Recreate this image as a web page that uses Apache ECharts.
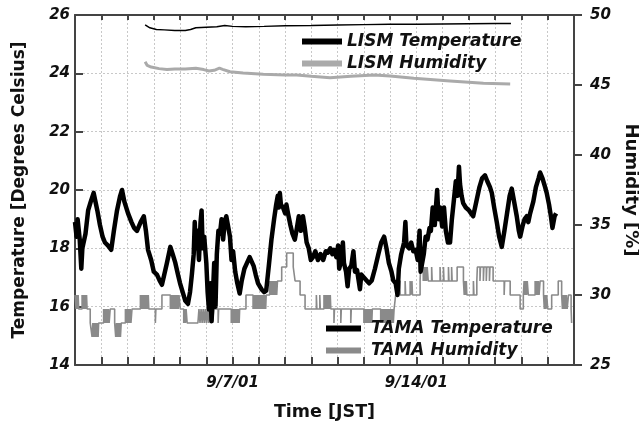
<!DOCTYPE html>
<html>
<head>
<meta charset="utf-8">
<script src="https://cdn.jsdelivr.net/npm/echarts@6/dist/echarts.min.js"></script>
<style>
  html, body { margin: 0; padding: 0; background: #fff; }
  #chart { width: 639px; height: 424px; }
</style>
</head>
<body>
<div id="chart"></div>
<script>
// x values are days since 9/1/01 00:00 JST
const xTickDays = [6, 13]
const xTickLabels = ['9/7/01', '9/14/01']

// TAMA temperature (left axis, deg C)
const tamaTempDay = [0.00,0.06,0.10,0.18,0.24,0.28,0.33,0.40,0.50,0.60,0.71,0.78,0.85,0.95,1.05,1.14,1.25,1.38,1.48,1.60,1.72,1.79,1.88,2.02,2.15,2.25,2.36,2.50,2.62,2.70,2.78,2.90,3.00,3.12,3.22,3.31,3.40,3.50,3.63,3.72,3.82,3.92,4.00,4.10,4.20,4.30,4.38,4.45,4.52,4.56,4.60,4.66,4.72,4.78,4.82,4.86,4.92,5.00,5.05,5.10,5.15,5.20,5.25,5.30,5.35,5.40,5.46,5.52,5.58,5.64,5.70,5.76,5.82,5.90,5.96,6.02,6.10,6.18,6.27,6.35,6.45,6.55,6.65,6.71,6.80,6.88,6.97,7.10,7.20,7.28,7.38,7.48,7.58,7.66,7.72,7.76,7.80,7.84,7.92,8.00,8.05,8.11,8.20,8.28,8.37,8.45,8.52,8.60,8.68,8.75,8.82,8.90,8.98,9.06,9.15,9.25,9.35,9.45,9.55,9.63,9.72,9.80,9.86,9.95,10.02,10.06,10.14,10.20,10.24,10.32,10.38,10.44,10.52,10.60,10.66,10.74,10.85,10.90,11.00,11.10,11.20,11.30,11.42,11.55,11.66,11.77,11.86,11.95,12.05,12.12,12.21,12.28,12.33,12.42,12.53,12.58,12.62,12.72,12.80,12.88,12.97,13.05,13.12,13.16,13.21,13.28,13.35,13.42,13.50,13.55,13.62,13.70,13.75,13.79,13.84,13.90,13.98,14.05,14.12,14.20,14.28,14.35,14.42,14.50,14.56,14.62,14.66,14.72,14.78,14.88,15.00,15.08,15.16,15.28,15.40,15.50,15.61,15.70,15.80,15.87,15.96,16.06,16.15,16.25,16.35,16.45,16.55,16.63,16.72,16.82,16.90,16.95,17.05,17.12,17.20,17.26,17.33,17.45,17.55,17.65,17.71,17.80,17.90,17.96,18.05,18.12,18.18,18.21,18.26,18.32]
const tamaTempVal = [18.9,18.4,19.0,18.3,17.3,18.0,18.05,18.5,19.3,19.6,19.9,19.6,19.3,18.8,18.4,18.2,18.1,17.95,18.6,19.3,19.8,20.0,19.6,19.2,18.9,18.7,18.6,18.9,19.1,18.6,17.95,17.6,17.2,17.1,16.9,16.75,17.1,17.5,18.05,17.8,17.5,17.1,16.8,16.5,16.2,16.1,16.5,17.1,17.8,18.9,18.0,18.6,17.6,18.9,19.3,18.0,18.4,17.5,16.5,15.9,16.8,15.5,16.4,17.5,16.0,17.8,18.6,18.5,19.0,18.3,18.9,19.1,18.8,18.4,17.6,17.9,17.2,16.8,16.45,16.9,17.3,17.5,17.7,17.75,17.4,17.1,16.8,16.6,16.5,16.55,17.4,18.3,19.0,19.5,19.8,19.4,19.9,19.5,19.4,19.2,19.5,19.2,18.8,18.5,18.3,18.7,19.1,18.6,19.1,18.7,18.2,18.0,17.6,17.7,17.9,17.6,17.8,17.6,17.9,17.85,18.0,17.8,17.95,17.7,18.1,17.3,17.6,18.2,17.5,17.2,16.7,17.3,17.4,17.9,17.2,17.25,16.6,17.1,17.0,16.9,16.8,16.9,17.3,17.8,18.2,18.4,18.0,17.5,17.2,16.9,16.8,16.4,17.3,17.8,18.2,18.9,18.1,18.0,18.2,17.9,17.95,17.6,18.6,17.2,17.15,17.8,18.4,18.3,18.7,18.6,19.4,18.8,19.5,20.0,19.0,19.4,18.75,19.4,18.6,18.2,18.2,19.0,19.6,20.3,19.8,20.8,20.2,19.8,19.55,19.4,19.3,19.2,19.1,19.6,20.1,20.4,20.5,20.3,20.1,19.9,19.4,18.9,18.4,18.05,18.6,19.2,19.8,20.05,19.6,19.1,18.6,18.4,18.8,19.0,19.1,18.9,19.2,19.6,20.1,20.4,20.6,20.4,20.1,19.9,19.5,19.1,18.7,18.75,19.1,19.2]

// TAMA humidity (right axis, %), value holds from its day to the next
const tamaHumDay = [0.00,0.04,0.07,0.10,0.12,0.14,0.27,0.30,0.33,0.36,0.39,0.42,0.44,0.46,0.58,0.65,0.68,0.71,0.74,0.77,0.80,0.83,0.86,0.88,0.90,1.09,1.12,1.15,1.18,1.21,1.24,1.27,1.30,1.34,1.51,1.55,1.58,1.61,1.64,1.67,1.70,1.73,1.76,1.92,1.95,1.98,2.01,2.04,2.07,2.10,2.13,2.17,2.49,2.52,2.55,2.58,2.61,2.64,2.67,2.70,2.73,2.76,2.79,2.81,3.06,3.08,3.31,3.63,3.66,3.69,3.72,3.75,3.78,3.81,3.84,3.87,3.90,3.93,3.96,4.01,4.14,4.17,4.20,4.23,4.27,4.68,4.72,4.76,4.80,4.84,4.88,4.92,4.96,5.00,5.04,5.08,5.12,5.16,5.20,5.24,5.28,5.45,5.47,5.95,5.98,6.01,6.04,6.07,6.10,6.13,6.16,6.19,6.22,6.25,6.27,6.51,6.78,6.81,6.84,6.87,6.90,6.93,6.96,6.99,7.02,7.05,7.08,7.11,7.14,7.17,7.20,7.23,7.26,7.28,7.41,7.44,7.47,7.50,7.53,7.56,7.59,7.62,7.65,7.68,7.71,7.87,8.06,8.31,8.38,8.57,8.76,9.19,9.21,9.32,9.34,9.48,9.51,9.54,9.57,9.60,9.63,9.66,9.69,9.72,9.74,9.86,9.88,10.12,10.14,10.50,10.52,11.00,11.03,11.06,11.09,11.12,11.15,11.18,11.21,11.24,11.27,11.30,11.32,11.64,11.67,11.70,11.73,11.76,11.79,11.82,11.85,11.88,11.91,11.94,11.97,12.00,12.03,12.06,12.09,12.12,12.15,12.18,12.21,12.30,12.38,12.57,12.59,12.76,12.78,12.83,12.85,13.14,13.16,13.26,13.29,13.32,13.35,13.38,13.41,13.45,13.58,13.60,13.90,13.92,14.03,14.05,14.22,14.24,14.34,14.36,14.55,14.79,14.82,14.85,14.88,14.90,14.92,15.17,15.19,15.30,15.32,15.42,15.44,15.55,15.57,15.66,15.68,15.78,15.80,15.92,16.34,16.36,16.57,16.95,17.07,17.10,17.13,17.16,17.19,17.22,17.26,17.52,17.55,17.58,17.61,17.64,17.67,17.71,17.84,17.87,17.90,17.93,17.96,18.00,18.15,18.40,18.53,18.56,18.59,18.62,18.65,18.68,18.71,18.74,18.79,18.89,18.91]
const tamaHumVal = [30,29,30,29,30,29,30,29,30,29,30,29,30,29,28,27,28,27,28,27,28,27,28,27,28,29,28,29,28,29,28,29,28,29,28,27,28,27,28,27,28,27,28,29,28,29,28,29,28,29,28,29,30,29,30,29,30,29,30,29,30,29,30,29,28,29,30,29,30,29,30,29,30,29,30,29,30,29,30,29,28,29,28,29,28,28,29,28,29,28,29,28,29,28,29,28,29,28,29,28,29,28,29,28,29,28,29,28,29,28,29,28,29,28,29,30,29,30,29,30,29,30,29,30,29,30,29,30,29,30,29,30,29,30,31,30,31,30,31,30,31,30,31,30,31,32,33,32,31,30,29,30,29,30,29,30,29,30,29,30,29,30,29,30,29,28,29,28,29,28,29,28,29,28,29,28,29,28,29,28,29,28,29,28,29,28,29,28,29,28,29,28,29,28,29,28,29,28,29,28,29,29,30,31,30,31,30,31,30,31,30,31,32,31,32,31,32,31,32,31,32,31,32,31,32,31,32,31,32,31,32,31,30,31,30,31,30,31,30,31,32,31,32,31,32,31,32,31,32,31,30,31,30,29,30,31,30,31,30,31,30,31,30,31,30,31,30,31,30,29,30,29,30,29,30,31,30,29,30,29,30,29,30,29,30,29,28,28]

// LISM temperature (left axis) and humidity (right axis)
const lismTempDay = [2.67,2.85,3.10,3.40,3.80,4.20,4.40,4.60,5.00,5.40,5.70,6.00,6.50,7.20,8.00,9.00,10.00,11.00,12.00,13.00,14.00,15.00,16.00,16.60]
const lismTempVal = [25.66,25.56,25.50,25.49,25.47,25.47,25.50,25.56,25.58,25.60,25.64,25.61,25.60,25.61,25.63,25.64,25.66,25.67,25.68,25.68,25.69,25.70,25.71,25.71]
const lismHumDay = [2.67,2.75,2.90,3.20,3.50,3.80,4.20,4.60,4.90,5.10,5.30,5.50,5.62,5.90,6.40,7.17,8.00,8.44,9.00,9.71,10.50,11.40,12.00,12.90,14.28,15.55,16.57]
const lismHumVal = [46.66,46.40,46.28,46.17,46.10,46.15,46.14,46.19,46.10,46.00,46.05,46.20,46.12,45.95,45.85,45.76,45.72,45.71,45.62,45.52,45.62,45.71,45.65,45.48,45.29,45.12,45.07]

const zip = (xs, ys) => xs.map((x, i) => [x, ys[i]])

const FONT = 'DejaVu Sans'
const labelStyle = { fontFamily: FONT, fontWeight: 'bold', fontStyle: 'italic', fontSize: 15, color: '#111' }
const nameStyle = { fontFamily: FONT, fontWeight: 'bold', fontSize: 17, color: '#111' }
const legendText = { fontFamily: FONT, fontWeight: 'bold', fontStyle: 'italic', fontSize: 17, color: '#111' }
const frame = { show: true, onZero: false, lineStyle: { color: '#444', width: 2 } }
const grid = { show: true, lineStyle: { color: '#c8c8c8', type: [2, 2], width: 1 } }
const tick = (inside, length) => ({ show: true, inside: inside, length: length, lineStyle: { color: '#444', width: 2 } })

let chart = echarts.init(document.getElementById('chart'))
chart.setOption({
  animation: false,
  backgroundColor: '#fff',
  grid: { left: 75, top: 15, right: 65, bottom: 59, containLabel: false, outerBoundsMode: 'none' },
  legend: [
    {
      data: ['LISM Temperature', 'LISM Humidity'],
      orient: 'vertical', left: 297, top: 28, itemGap: 5,
      itemWidth: 40, itemHeight: 6, icon: 'rect',
      textStyle: legendText
    },
    {
      data: ['TAMA Temperature', 'TAMA Humidity'],
      orient: 'vertical', left: 321, top: 315, itemGap: 5,
      itemWidth: 35, itemHeight: 6, icon: 'rect',
      textStyle: Object.assign({}, legendText, { padding: [0, 0, 0, 5] })
    }
  ],
  xAxis: [
    {
      type: 'value', min: 0, max: 19, interval: 1, position: 'bottom',
      axisLine: frame,
      axisTick: tick(true, 8),
      splitLine: grid,
      axisLabel: Object.assign({}, labelStyle, {
        margin: 11,
        formatter: v => {
          let i = xTickDays.indexOf(v)
          return i >= 0 ? xTickLabels[i] : ''
        }
      }),
      name: 'Time [JST]', nameLocation: 'middle', nameGap: 38,
      nameTextStyle: Object.assign({}, nameStyle, { fontSize: 17.5 })
    },
    {
      type: 'value', min: 0, max: 19, interval: 1, position: 'top',
      axisLine: frame,
      axisTick: tick(true, 5),
      splitLine: { show: false },
      axisLabel: { show: false }
    }
  ],
  yAxis: [
    {
      type: 'value', min: 14, max: 26, interval: 2, position: 'left',
      axisLine: frame,
      axisTick: tick(true, 8),
      splitLine: grid,
      axisLabel: Object.assign({}, labelStyle, { margin: 5 }),
      name: 'Temperature [Degrees Celsius]', nameLocation: 'middle', nameRotate: 90, nameGap: 47,
      nameTextStyle: nameStyle
    },
    {
      type: 'value', min: 25, max: 50, interval: 5, position: 'right',
      axisLine: frame,
      axisTick: tick(false, 8),
      splitLine: { show: false },
      axisLabel: Object.assign({}, labelStyle, { margin: 16 }),
      name: 'Humidity [%]', nameLocation: 'middle', nameRotate: -90, nameGap: 47,
      nameTextStyle: Object.assign({}, nameStyle, { fontSize: 18 })
    }
  ],
  series: [
    {
      name: 'TAMA Humidity', type: 'line', yAxisIndex: 1, step: 'end',
      showSymbol: false, color: '#8a8a8a',
      lineStyle: { color: '#8a8a8a', width: 1.6 },
      data: zip(tamaHumDay, tamaHumVal), z: 2
    },
    {
      name: 'TAMA Temperature', type: 'line', yAxisIndex: 0,
      showSymbol: false, color: '#000',
      lineStyle: { color: '#000', width: 4.5, join: 'round' },
      data: zip(tamaTempDay, tamaTempVal), z: 3
    },
    {
      name: 'LISM Temperature', type: 'line', yAxisIndex: 0,
      showSymbol: false, color: '#000',
      lineStyle: { color: '#000', width: 1.5 },
      data: zip(lismTempDay, lismTempVal), z: 3
    },
    {
      name: 'LISM Humidity', type: 'line', yAxisIndex: 1,
      showSymbol: false, color: '#aaaaaa',
      lineStyle: { color: '#aaaaaa', width: 3 },
      data: zip(lismHumDay, lismHumVal), z: 2
    }
  ]
})
</script>
</body>
</html>
